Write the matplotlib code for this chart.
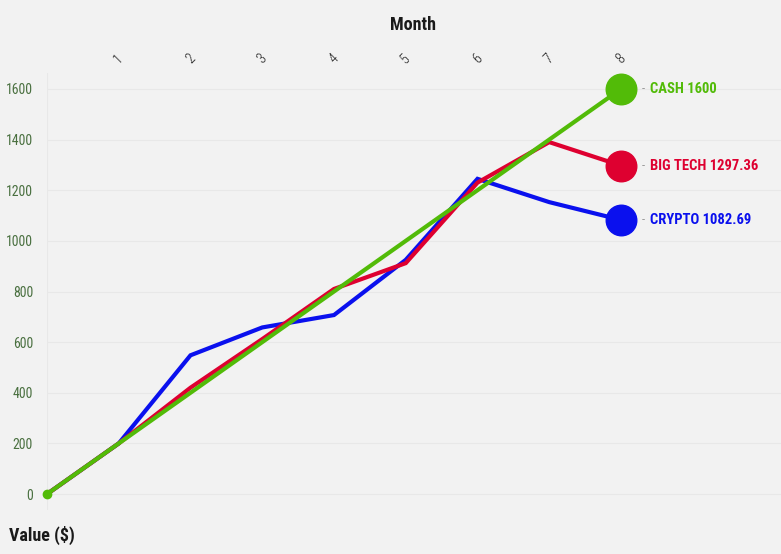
import matplotlib
matplotlib.use("Agg")
import matplotlib.pyplot as plt

plt.rcParams['font.family'] = ['Roboto Condensed', 'DejaVu Sans Condensed', 'Roboto', 'DejaVu Sans']

# data
months = [0, 1, 2, 3, 4, 5, 6, 7, 8]
crypto = [0, 200, 548, 658, 707, 925, 1245, 1153, 1082.69]
big_tech = [0, 200, 420, 612, 810, 912, 1230, 1390, 1297.36]
cash = [0, 200, 400, 600, 800, 1000, 1200, 1400, 1600]

series_names = ['CRYPTO', 'BIG TECH', 'CASH']
series_values = [crypto, big_tech, cash]
series_colors = ['#0a10ee', '#de0030', '#52bb08']
end_labels = ['1082.69', '1297.36', '1600']

bg = '#f2f2f2'
fig = plt.figure(figsize=(7.81, 5.54), dpi=100, facecolor=bg)
ax = fig.add_axes([47 / 781, 1 - 510 / 554, 1 - 47 / 781, (510 - 73) / 554])
ax.set_facecolor(bg)

for name, vals, col, lab in zip(series_names, series_values, series_colors, end_labels):
    ax.plot(months, vals, color=col, lw=3.0, solid_joinstyle='miter', zorder=3)
    ax.plot(months[-1], vals[-1], 'o', color=col, ms=22, zorder=4)
    ax.annotate('-', (months[-1], vals[-1]), xytext=(15, 0), textcoords='offset points',
                color='#999999', fontsize=9, va='center', ha='left')
    ax.annotate(f'{name} {lab}', (months[-1], vals[-1]), xytext=(21, 0),
                textcoords='offset points', color=col, fontsize=10.5, fontweight='bold',
                va='center', ha='left')

# small start dot
ax.plot(months[0], cash[0], 'o', color=series_colors[2], ms=6, zorder=5, clip_on=False)

ax.set_xlim(0, 10.23)
ax.set_ylim(-63, 1663)

ax.xaxis.tick_top()
ax.set_xticks(months[1:])
ax.set_xticklabels([str(m) for m in months[1:]], rotation=45, ha='center',
                   fontsize=10, color='#1a1a1a', fontweight='light')
ax.set_yticks(range(0, 1601, 200))
ax.set_yticklabels([str(v) for v in range(0, 1601, 200)], fontsize=10, color='#4a7040')
ax.tick_params(axis='both', length=0)
ax.tick_params(axis='x', pad=5)
ax.tick_params(axis='y', pad=10)
ax.grid(axis='y', color='#e8e8e8', lw=0.8)
ax.grid(axis='x', visible=False)
ax.axvline(0, color='#e8e8e8', lw=0.8, zorder=0)
for s in ax.spines.values():
    s.set_visible(False)

fig.text(413 / 781, 1 - 25 / 554, 'Month', ha='center', va='center',
         fontsize=13, fontweight='bold', color='#1a1a1a')
fig.text(9 / 781, 1 - 535 / 554, 'Value ($)', ha='left', va='center',
         fontsize=13, fontweight='bold', color='#1a1a1a')

fig.savefig('out.png', dpi=100, facecolor=bg)
